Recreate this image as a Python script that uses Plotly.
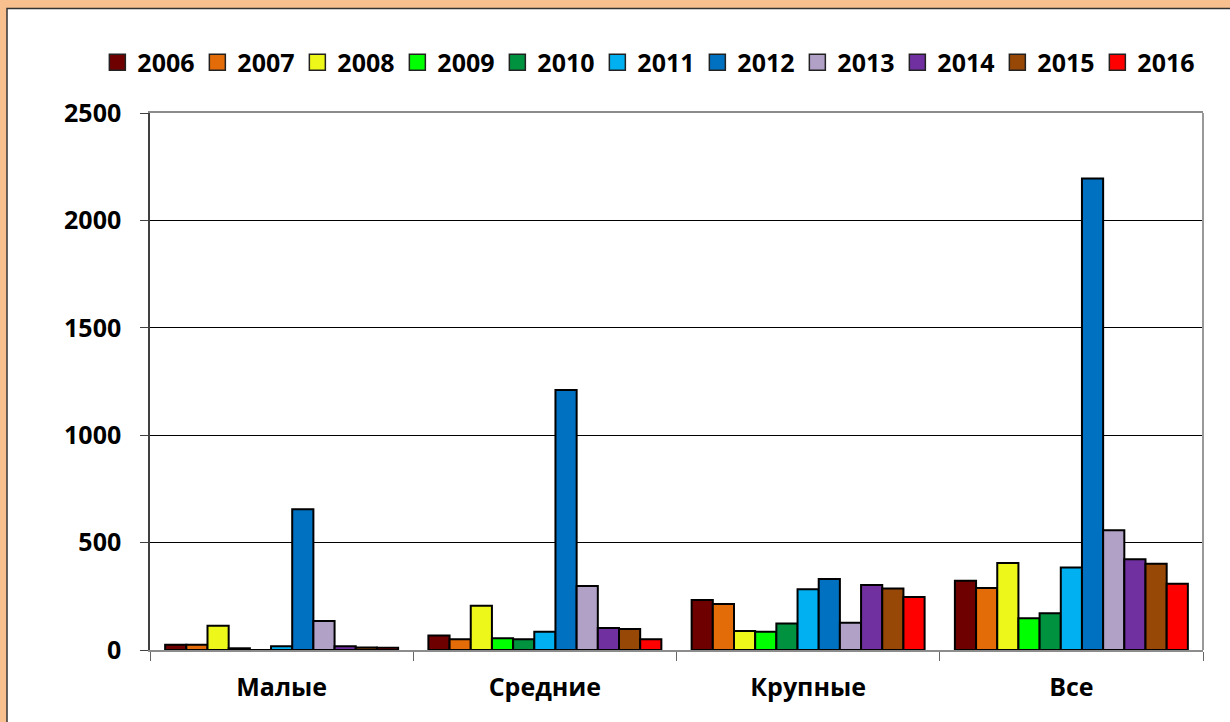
import plotly.graph_objects as go

categories = ["Малые", "Средние", "Крупные", "Все"]
years = ["2006", "2007", "2008", "2009", "2010", "2011",
         "2012", "2013", "2014", "2015", "2016"]

# values per year: [Малые, Средние, Крупные, Все]
v2006 = [25, 67, 233, 322]
v2007 = [25, 50, 214, 289]
v2008 = [113, 206, 88, 405]
v2009 = [8, 55, 85, 148]
v2010 = [0, 50, 123, 171]
v2011 = [17, 85, 283, 384]
v2012 = [655, 1210, 331, 2195]
v2013 = [135, 298, 127, 558]
v2014 = [17, 103, 303, 423]
v2015 = [12, 98, 286, 401]
v2016 = [10, 50, 247, 308]

series = [v2006, v2007, v2008, v2009, v2010, v2011,
          v2012, v2013, v2014, v2015, v2016]
colors = ["#6E0000", "#E36C09", "#EEF71A", "#00FF00", "#00923F", "#00B0F0",
          "#0070C0", "#B2A1C7", "#7030A0", "#974706", "#FF0000"]

FONT = dict(family="Open Sans", size=25, color="black", weight="bold")

fig = go.Figure()
for year, vals, color in zip(years, series, colors):
    fig.add_trace(go.Bar(
        x=categories, y=vals, name=year, showlegend=False,
        marker=dict(color=color, line=dict(color="black", width=2)),
    ))
    # legend entry with a larger square swatch
    fig.add_trace(go.Scatter(
        x=[None], y=[None], mode="markers", name=year,
        marker=dict(symbol="square", size=18, color=color,
                    line=dict(color="#222", width=1.5)),
    ))

fig.update_layout(
    width=1230, height=722,
    barmode="group", bargap=0.115, bargroupgap=0,
    paper_bgcolor="#F8BF8F", plot_bgcolor="white",
    font=FONT,
    margin=dict(l=150, r=27, t=113, b=72, autoexpand=False),
    legend=dict(orientation="h", x=-0.05, xanchor="left", y=1.094, yanchor="middle",
                font=FONT, entrywidth=55, itemwidth=30, bgcolor="rgba(0,0,0,0)"),
    shapes=[
        dict(type="rect", xref="paper", yref="paper", layer="below",
             x0=-0.1358, x1=1.04, y0=-0.16, y1=1.1948,
             fillcolor="white", line=dict(color="#333", width=1.5)),
        dict(type="line", xref="paper", yref="paper",
             x0=1, x1=1, y0=0, y1=1, line=dict(color="#999", width=2)),
    ],
)
fig.update_yaxes(range=[0, 2500], dtick=500, showgrid=True, gridcolor="black", gridwidth=1,
                 zeroline=False, showline=True, linecolor="#404040", linewidth=1.5,
                 ticks="outside", ticklen=8, tickcolor="#404040",
                 ticklabelstandoff=14, tickfont=FONT, automargin=False)
fig.update_xaxes(showline=True, mirror=True, linecolor="#8c8c8c", linewidth=1.5,
                 ticks="outside", tickson="boundaries", ticklen=9, tickcolor="#666",
                 ticklabelstandoff=14, tickfont=FONT, automargin=False)

# page body has a default 8px margin; drop it so the figure sits at 0,0
fig.write_html("out.html", config={"displayModeBar": False},
               post_script="document.body.style.margin='0';")
